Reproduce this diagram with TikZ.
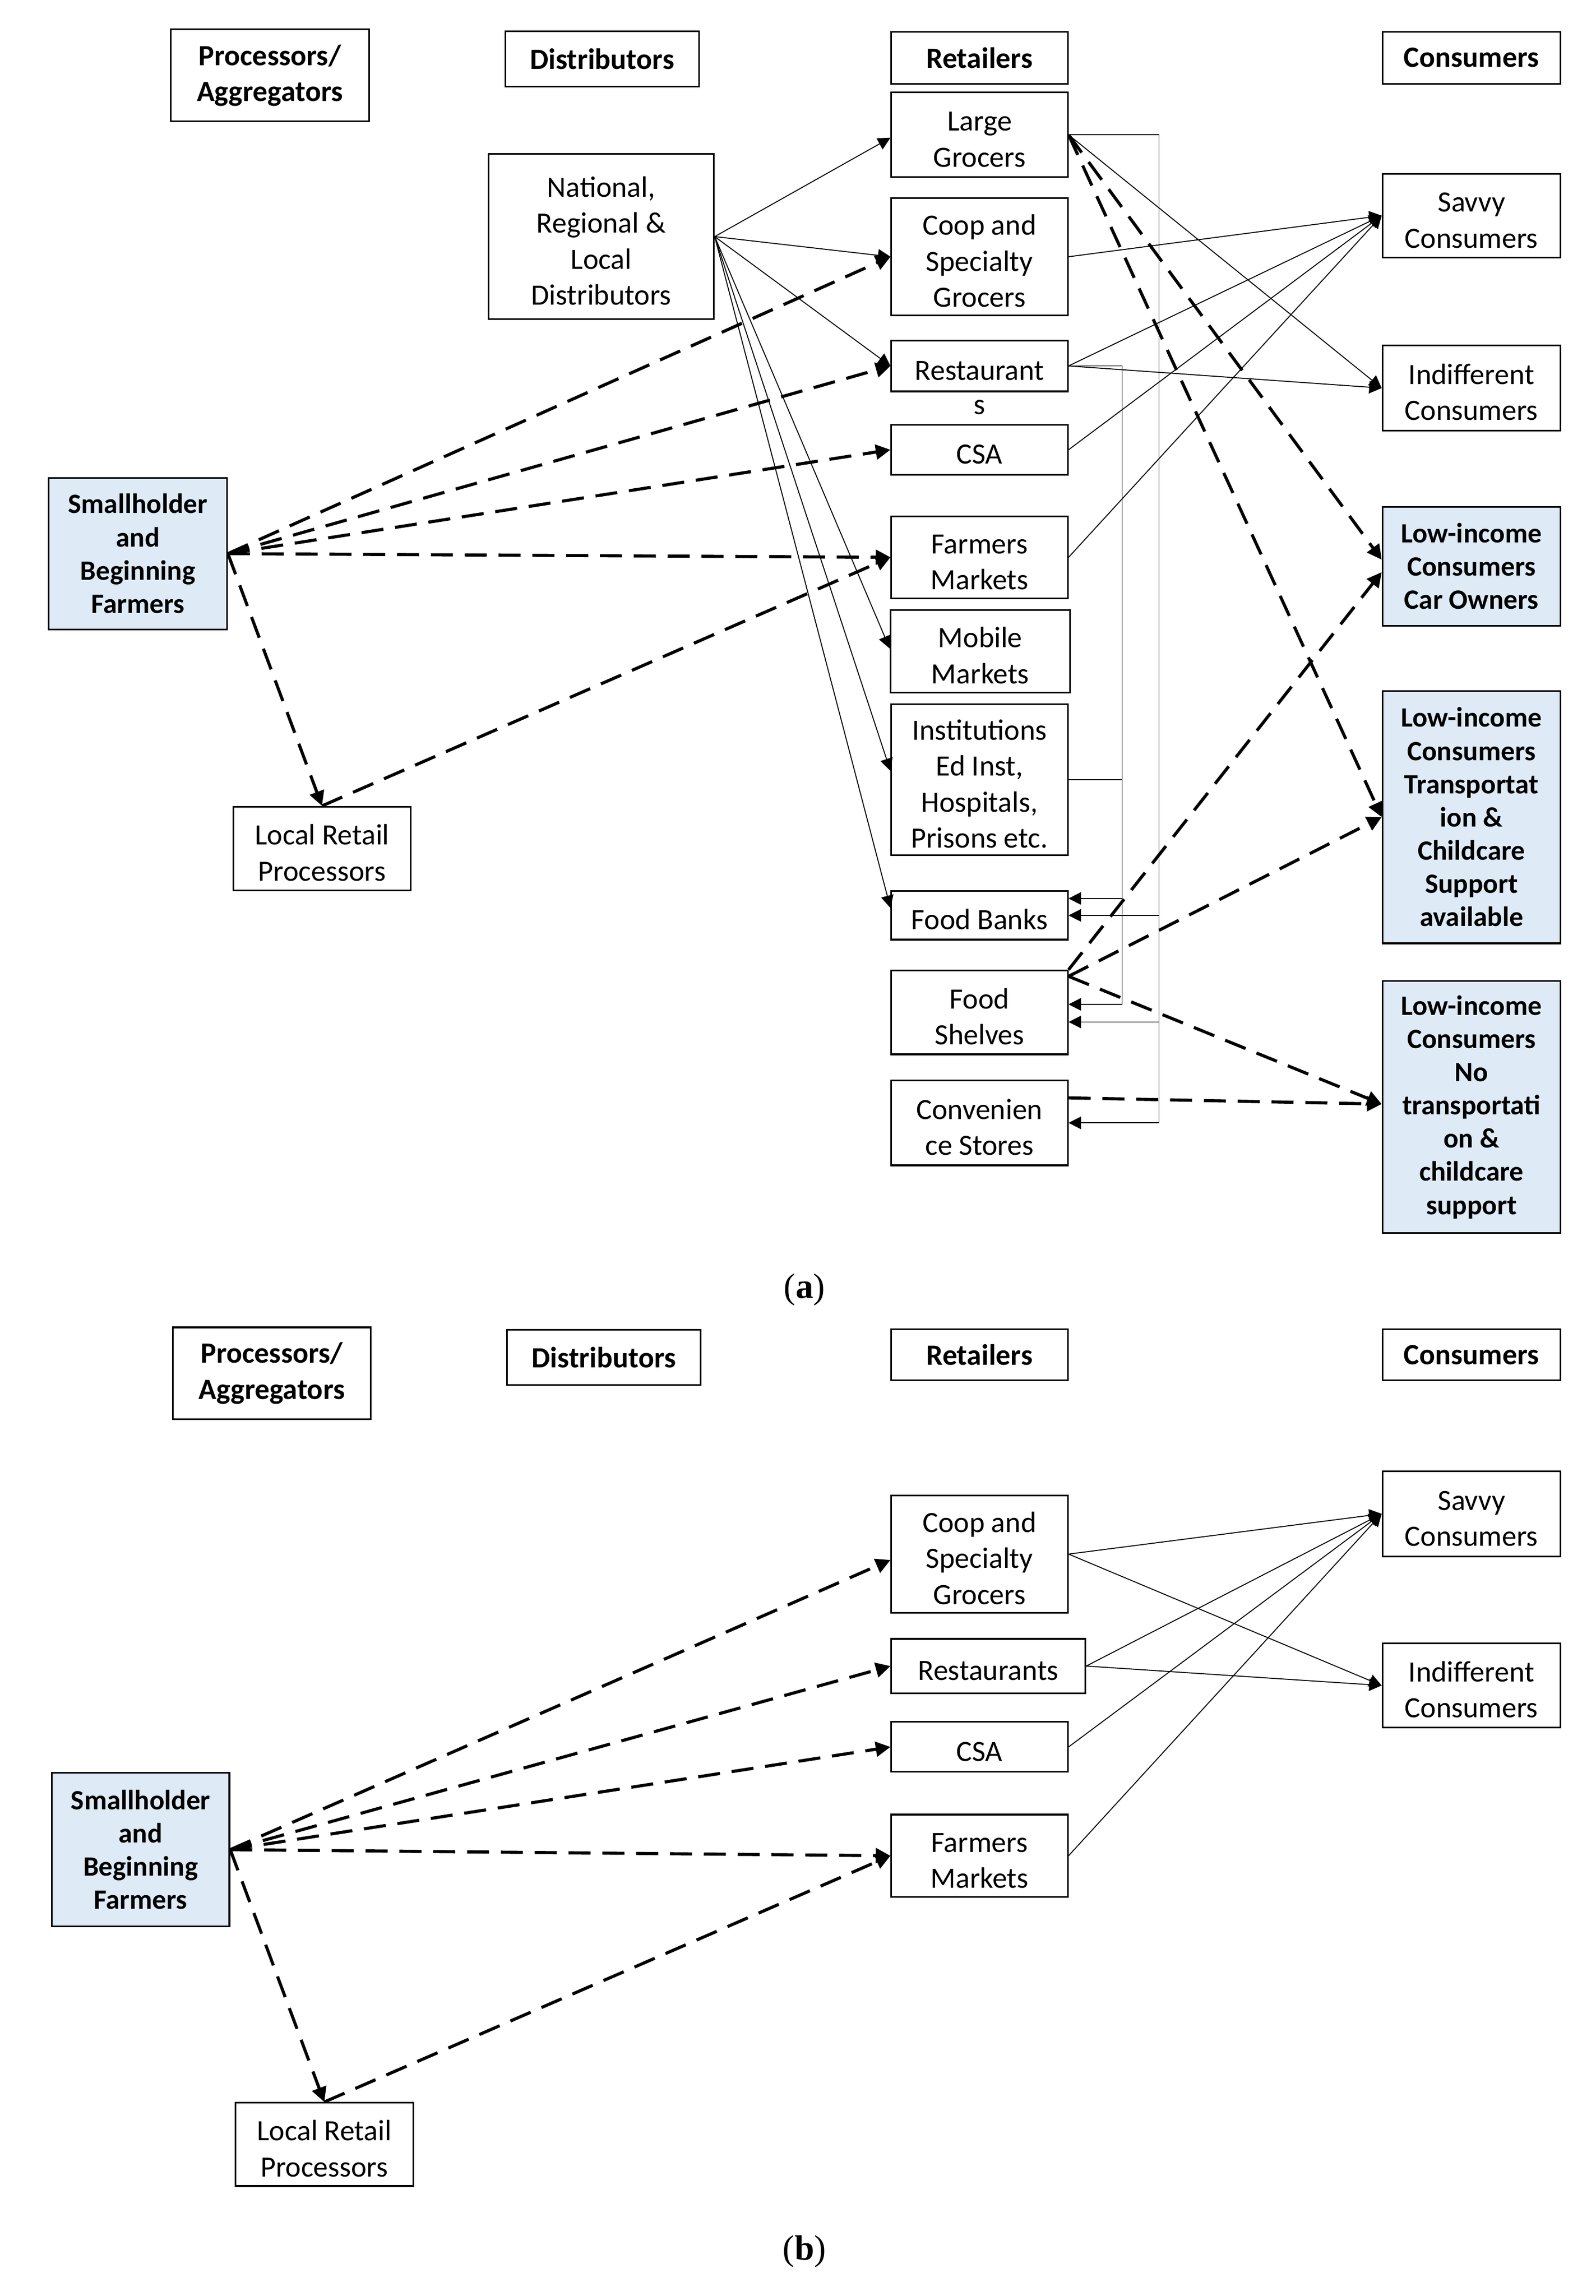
\documentclass[tikz,border=0pt]{standalone}
\usepackage{fontspec}
\setmainfont{Carlito}
\newfontfamily\capserif{Liberation Serif}
\usetikzlibrary{arrows.meta,calc}
\definecolor{lightblue}{RGB}{222,235,247}
\newcommand\regfont{\fontsize{20}{24.5}\selectfont}
\newcommand\hdrfont{\fontsize{20}{24.5}\selectfont\bfseries}
\newcommand\bluefont{\fontsize{19}{22.6}\selectfont\bfseries}
\newcommand\ts{\rule{0pt}{19.5pt}}
\begin{document}
\begin{tikzpicture}[x=1pt,y=-1pt,
  basebox/.style={draw, line width=1.1pt, inner sep=0pt, align=center},
  box/.style={basebox, font=\regfont},
  hdr/.style={basebox, font=\hdrfont},
  bluebox/.style={basebox, fill=lightblue, font=\bluefont},
  plain/.style={inner sep=0pt, font=\regfont},
  thinarr/.style={line width=0.65pt, -{Triangle[length=8.5pt,width=8.5pt]}},
  thinline/.style={line width=0.65pt},
  dasharr/.style={line width=2.1pt, dash pattern=on 15pt off 8pt, -{Triangle[length=10pt,width=10pt]}}]
\fill[white] (0,0) rectangle (1085.15,1561.4);
\useasboundingbox (0,0) rectangle (1085.15,1561.4);

% ---------------- panel (a) ----------------
\node[hdr, minimum width=135pt, minimum height=62.6pt] (proc) at (183.5,51.3) {Processors/\\Aggregators};
\node[hdr, minimum width=131.7pt, minimum height=37.5pt] (dist) at (409.4,40.1) {Distributors};
\node[hdr, minimum width=120pt, minimum height=35.5pt] (ret) at (666,39.3) {Retailers};
\node[hdr, minimum width=121pt, minimum height=35.5pt] (cons) at (1000.5,39.3) {Consumers};

\node[box, minimum width=153.2pt, minimum height=112.5pt] (natdist) at (408.8,160.9) {\ts National,\\Regional \&\\Local\\Distributors};

\node[box, minimum width=120pt, minimum height=57.7pt] (lg) at (666,91.65) {\ts Large\\Grocers};
\node[box, minimum width=120pt, minimum height=79.8pt] (coop) at (666,174.6) {\ts Coop and\\Specialty\\Grocers};
\node[box, minimum width=120pt, minimum height=34.7pt] (rest) at (666,248.85) {\ts Restaurant};
\node[plain] (rests) at (666,277) {s};
\node[box, minimum width=120pt, minimum height=34.1pt] (csa) at (666,305.85) {\ts CSA};
\node[box, minimum width=120pt, minimum height=56pt] (farm) at (666,379) {\ts Farmers\\Markets};
\node[box, minimum width=122pt, minimum height=56pt] (mob) at (666.5,443) {\ts Mobile\\Markets};
\node[box, minimum width=120pt, minimum height=102.6pt] (inst) at (666,530.3) {\ts Institutions\\Ed Inst,\\Hospitals,\\Prisons etc.};
\node[box, minimum width=120pt, minimum height=33pt] (fb) at (666,622.5) {\ts Food Banks};
\node[box, minimum width=120pt, minimum height=57pt] (fs) at (666,688.5) {\ts Food\\Shelves};
\node[box, minimum width=120pt, minimum height=57.8pt] (conv) at (666,763.6) {\ts Convenien\\ce Stores};

\node[box, minimum width=121pt, minimum height=56.7pt] (savvy) at (1000.5,146.65) {\ts Savvy\\Consumers};
\node[box, minimum width=121pt, minimum height=57.8pt] (indiff) at (1000.5,263.9) {\ts Indifferent\\Consumers};
\node[bluebox, minimum width=121pt, minimum height=81pt] (car) at (1000.5,385.1) {Low-income\\Consumers\\Car Owners};
\node[bluebox, minimum width=121pt, minimum height=171.7pt] (trans) at (1000.5,555.65) {Low-income\\Consumers\\Transportat\\ion \&\\Childcare\\Support\\available};
\node[bluebox, minimum width=121pt, minimum height=171.6pt] (notrans) at (1000.5,752.8) {Low-income\\Consumers\\No\\transportati\\on \&\\childcare\\support};

\node[bluebox, minimum width=121.3pt, minimum height=103pt] (small) at (93.75,376.5) {Smallholder\\and\\Beginning\\Farmers};
\node[box, minimum width=120.7pt, minimum height=57.1pt] (local) at (218.95,577.15) {\ts Local Retail\\Processors};

\node[inner sep=0pt, font=\capserif\fontsize{24}{28}\selectfont] (laba) at (547,877) {(\textbf{a})};

% distributor links
\draw[thinarr] (natdist.east) -- ([yshift=-2pt]lg.west);
\draw[thinarr] (natdist.east) -- (coop.west);
\draw[thinarr] (natdist.east) -- (rest.west);
\draw[thinarr] (natdist.east) -- ([yshift=2pt]mob.west);
\draw[thinarr] (natdist.east) -- ([yshift=6pt]inst.west);
\draw[thinarr] (natdist.east) -- ([yshift=5pt]fb.west);

% smallholder links
\draw[dasharr] (small.east) -- (coop.west);
\draw[dasharr] (small.east) -- (rest.west);
\draw[dasharr] (small.east) -- (csa.west);
\draw[dasharr] (small.east) -- (farm.west);
\draw[dasharr] (small.east) -- (local.north);
\draw[dasharr] (local.north) -- (farm.west);

% large grocers
\draw[thinarr] (lg.east) -- (indiff.west);
\draw[dasharr] (lg.east) -- ([yshift=4.5pt]car.west);
\draw[dasharr] (lg.east) -- (trans.west);

% bus 1 (large grocers donations)
\coordinate (b1t) at (788,91.65);
\coordinate (b1b) at (788,763.6);
\coordinate (fsB) at ([yshift=-6.5pt]fs.east);
\draw[thinline] (lg.east) -- (b1t) -- (b1b);
\draw[thinarr] (b1t |- fb.east) -- (fb.east);
\draw[thinarr] (b1t |- fsB) -- (fsB);
\draw[thinarr] (b1b) -- (conv.east);

% bus 2 (restaurants / institutions)
\coordinate (b2t) at (763,248.85);
\coordinate (b2b) at (763,683);
\coordinate (fbA) at ([yshift=11.5pt]fb.east);
\coordinate (fsA) at ([yshift=5.5pt]fs.east);
\draw[thinline] (rest.east) -- (b2t) -- (b2b);
\draw[thinline] (inst.east) -- (inst.east -| b2t);
\draw[thinarr] (fbA -| b2t) -- (fbA);
\draw[thinarr] (b2b) -- (fsA);

% retailers to consumers
\draw[thinarr] (coop.east) -- (savvy.west);
\draw[thinarr] (rest.east) -- (savvy.west);
\draw[thinarr] (rest.east) -- (indiff.west);
\draw[thinarr] (csa.east) -- (savvy.west);
\draw[thinarr] (farm.east) -- (savvy.west);

% food shelves / convenience
\coordinate (fsC) at ([yshift=-4.5pt]fs.north east);
\draw[dasharr] (fs.north east) -- ([yshift=-4pt]car.west);
\draw[dasharr] (fsC) -- (trans.west);
\draw[dasharr] (fsC) -- ([yshift=2pt]notrans.west);
\draw[dasharr] ([yshift=17pt]conv.east) -- ([yshift=2pt]notrans.west);

% ---------------- panel (b) ----------------
\node[hdr, minimum width=134.7pt, minimum height=62.3pt] (procb) at (184.85,933.85) {Processors/\\Aggregators};
\node[hdr, minimum width=131.8pt, minimum height=37.7pt] (distb) at (410.6,923.15) {Distributors};
\node[hdr, minimum width=120pt, minimum height=34.6pt] (retb) at (666,921.3) {Retailers};
\node[hdr, minimum width=121pt, minimum height=34.6pt] (consb) at (1000.5,921.3) {Consumers};

\node[box, minimum width=120pt, minimum height=79.7pt] (coopb) at (666,1056.85) {\ts Coop and\\Specialty\\Grocers};
\node[box, minimum width=132pt, minimum height=37pt] (restb) at (672,1133) {\ts Restaurants};
\node[box, minimum width=120pt, minimum height=34pt] (csab) at (666,1188) {\ts CSA};
\node[box, minimum width=120pt, minimum height=56pt] (farmb) at (666,1262) {\ts Farmers\\Markets};
\node[box, minimum width=121pt, minimum height=57.9pt] (savvyb) at (1000.5,1029.45) {\ts Savvy\\Consumers};
\node[box, minimum width=121pt, minimum height=57pt] (indiffb) at (1000.5,1146.2) {\ts Indifferent\\Consumers};
\node[bluebox, minimum width=120.7pt, minimum height=104.3pt] (smallb) at (95.65,1257.85) {Smallholder\\and\\Beginning\\Farmers};
\node[box, minimum width=121pt, minimum height=56.6pt] (localb) at (220.5,1458.3) {\ts Local Retail\\Processors};

\node[inner sep=0pt, font=\capserif\fontsize{24}{28}\selectfont] (labb) at (547,1531) {(\textbf{b})};

\draw[dasharr] (smallb.east) -- ([yshift=-4pt]coopb.west);
\draw[dasharr] (smallb.east) -- (restb.west);
\draw[dasharr] (smallb.east) -- (csab.west);
\draw[dasharr] (smallb.east) -- (farmb.west);
\draw[dasharr] (smallb.east) -- (localb.north);
\draw[dasharr] (localb.north) -- (farmb.west);

\draw[thinarr] (coopb.east) -- (savvyb.west);
\draw[thinarr] (coopb.east) -- (indiffb.west);
\draw[thinarr] (restb.east) -- (savvyb.west);
\draw[thinarr] (restb.east) -- (indiffb.west);
\draw[thinarr] (csab.east) -- (savvyb.west);
\draw[thinarr] (farmb.east) -- (savvyb.west);
\end{tikzpicture}
\end{document}
